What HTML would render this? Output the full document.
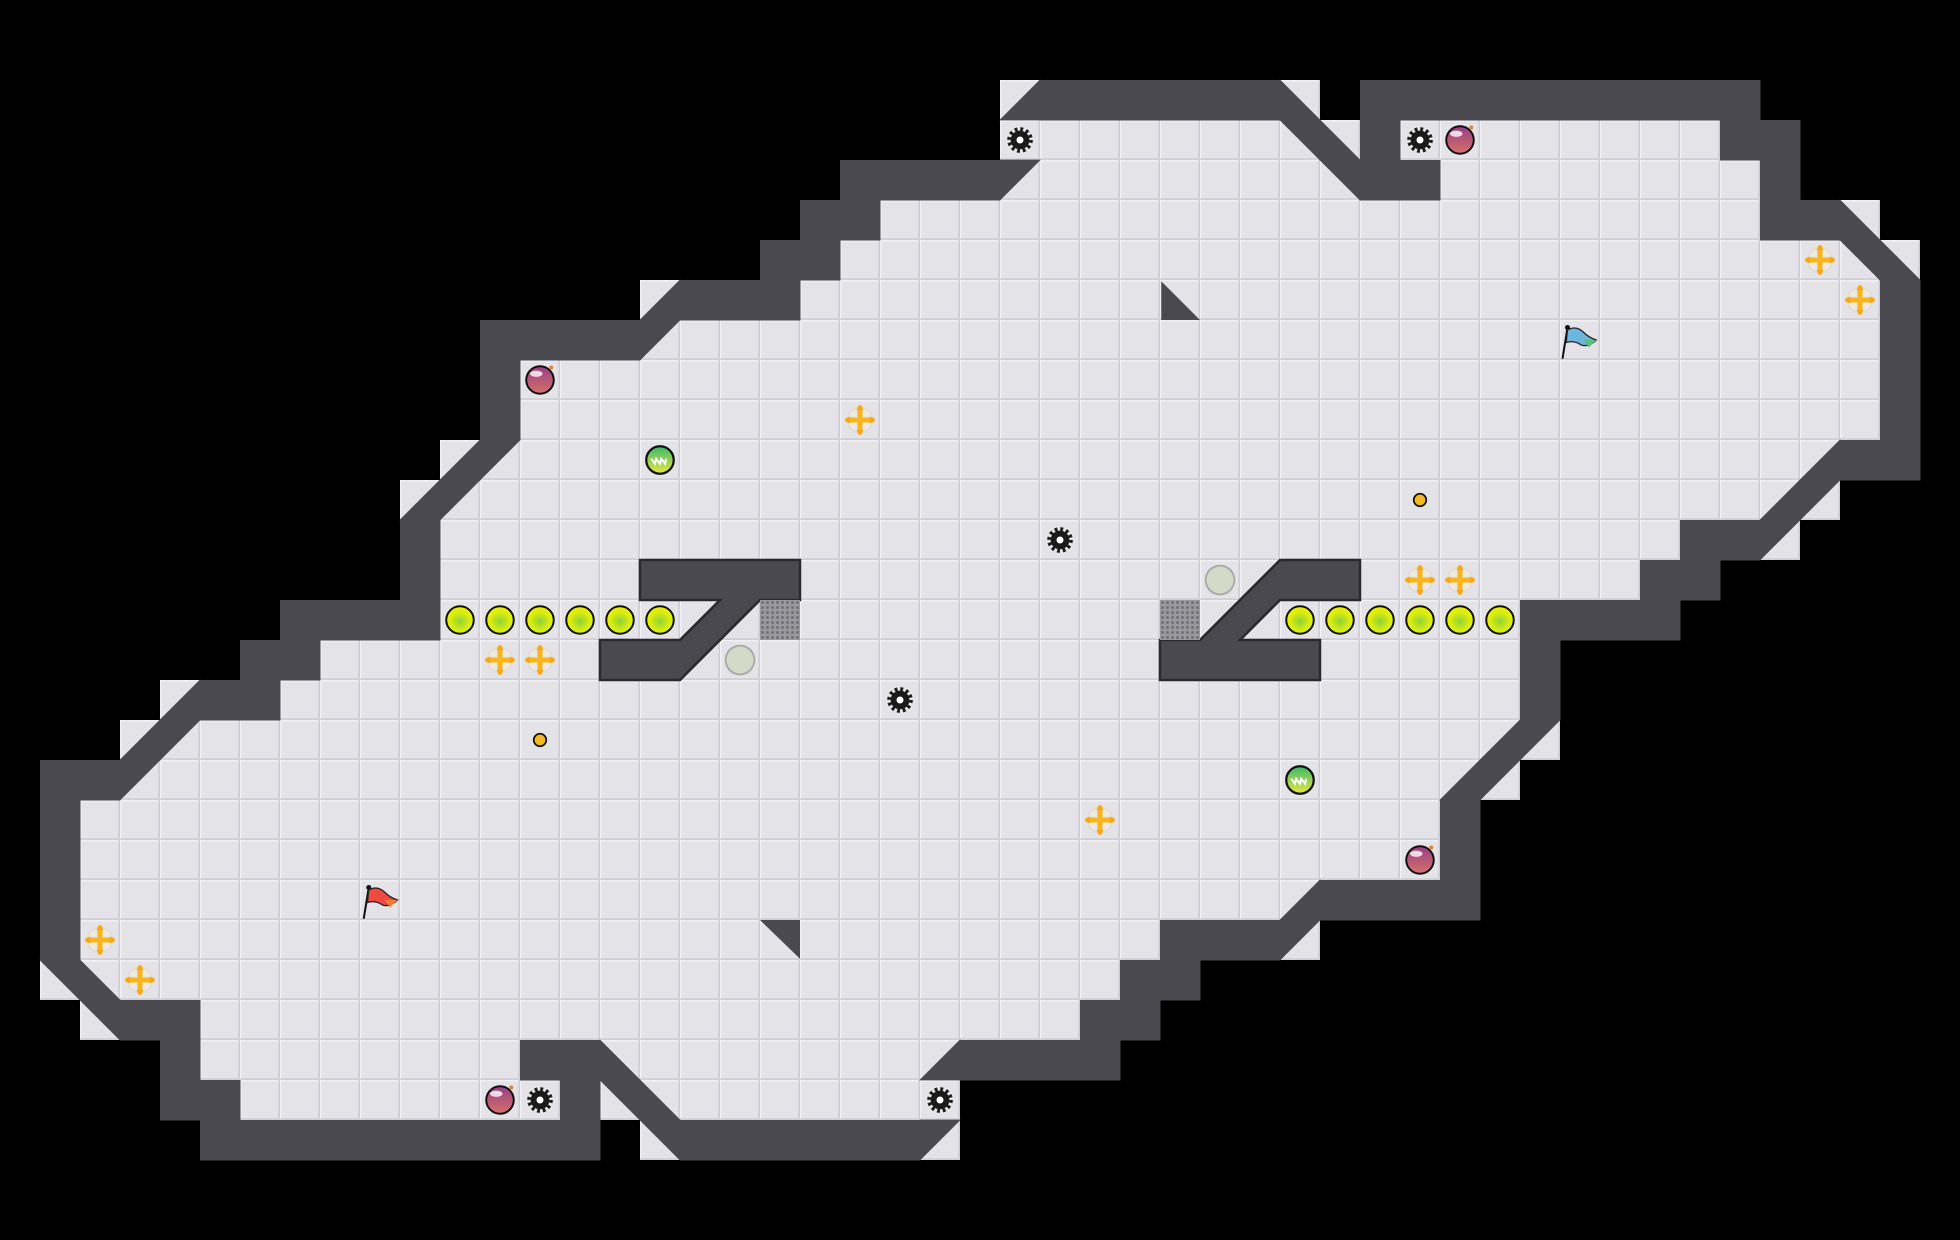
<!DOCTYPE html>
<html><head><meta charset="utf-8">
<style>
html,body{margin:0;padding:0;background:#000;width:1960px;height:1240px;overflow:hidden}
svg{display:block}
</style></head>
<body>
<svg id="s" xmlns="http://www.w3.org/2000/svg" width="1960" height="1240" viewBox="0 0 1568 992">
<defs>
<pattern id="fl" width="32" height="32" patternUnits="userSpaceOnUse">
<rect width="32" height="32" fill="#e3e3e8"/>
<rect x="0" y="0" width="32" height="1.2" fill="#f1f1f4"/>
<rect x="0" y="0" width="1.2" height="32" fill="#f1f1f4"/>
<rect x="0" y="30.6" width="32" height="1.4" fill="#cfcfd6"/>
<rect x="30.6" y="0" width="1.4" height="32" fill="#cfcfd6"/>
</pattern>
<radialGradient id="coin" cx="50%" cy="55%" r="55%">
<stop offset="0" stop-color="#8fd23a"/><stop offset="0.6" stop-color="#d6ec10"/><stop offset="1" stop-color="#f2f200"/>
</radialGradient>
<linearGradient id="bomb" x1="0" y1="0" x2="0" y2="1">
<stop offset="0" stop-color="#9a3f86"/><stop offset="1" stop-color="#d4706a"/>
</linearGradient>
<linearGradient id="orb" x1="0" y1="0" x2="0" y2="1">
<stop offset="0" stop-color="#3cb86a"/><stop offset="1" stop-color="#e6e840"/>
</linearGradient>
<pattern id="gr" width="4" height="4" patternUnits="userSpaceOnUse">
<rect width="4" height="4" fill="#9a9a9e"/><rect x="1" y="1" width="2" height="2" fill="#6a6a70"/>
</pattern>
</defs>
<rect width="1568" height="992" fill="#000"/>
<g id="g"></g>
</svg>
<script>
var rows={
2:"25A 26-31# 32B 34-43#",
3:"25. 26-31. 32D 33B 34# 35-42. 43-44#",
4:"21-24# 25C 26-32. 33D 34-35# 36-43. 44#",
5:"20-21# 22-43. 44-45# 46B",
6:"19-20# 21-45. 46D 47B",
7:"16A 17-19# 20-46. 47#",
8:"12-15# 16C 17-46. 47#",
9:"12# 13-46. 47#",
10:"12# 13-46. 47#",
11:"11A 12C 13-44. 45A 46-47#",
12:"10A 11C 12-43. 44A 45C",
13:"10# 11-41. 42-43# 44C",
14:"10# 11-40. 41-42#",
15:"7-10# 11-37. 38-41#",
16:"6-7# 8-37. 38#",
17:"4A 5-6# 7-37. 38#",
18:"3A 4C 5-36. 37A 38C",
19:"1-2# 3C 4-35. 36A 37C",
20:"1# 2-35. 36#",
21:"1# 2-35. 36#",
22:"1# 2-31. 32A 33-36#",
23:"1# 2-28. 29-31# 32C",
24:"1D 2B 3-27. 28-29#",
25:"2D 3-4# 5-26. 27-28#",
26:"4# 5-12. 13-14# 15B 16-22. 23A 24-27#",
27:"4-5# 6-13. 14# 15D 16B 17-23.",
28:"5-14# 16D 17-22# 23C"};
var W="#4a494f";
var fl="",dk="";
for(var r in rows){
 var y=r*32;
 rows[r].split(" ").forEach(function(t){
  var m=t.match(/^(\d+)(?:-(\d+))?(.)$/);
  var a=+m[1],b=m[2]?+m[2]:a,ch=m[3];
  for(var c=a;c<=b;c++){
   var x=c*32;
   fl+='<rect x="'+x+'" y="'+y+'" width="32" height="32" fill="url(#fl)"/>';
   var p=null;
   if(ch=="#")dk+='<rect x="'+x+'" y="'+y+'" width="32.4" height="32.4" fill="'+W+'"/>';
   if(ch=="A")p=[x+32,y,x+32,y+32,x,y+32];
   if(ch=="B")p=[x,y,x,y+32,x+32,y+32];
   if(ch=="C")p=[x,y,x+32,y,x,y+32];
   if(ch=="D")p=[x,y,x+32,y,x+32,y+32];
   if(p)dk+='<polygon points="'+p.join(" ")+'" fill="'+W+'" stroke="'+W+'" stroke-width="0.6"/>';
  }
 });
}
var h=fl+dk;
// interior blocks
h+='<polygon points="512,448 640,448 640,480 608,480 544,544 480,544 480,512 544,512 576,480 512,480" fill="'+W+'" stroke="#2a2a2e" stroke-width="2"/>';
h+='<polygon points="1024,448 1088,448 1088,480 1024,480 992,512 1056,512 1056,544 928,544 928,512 960,512" fill="'+W+'" stroke="#2a2a2e" stroke-width="2"/>';
h+='<polygon points="929,225 929,256 960,256" fill="'+W+'"/>';
h+='<polygon points="608,736 640,736 640,767" fill="'+W+'"/>';
// grates
h+='<rect x="608" y="480" width="32" height="32" fill="url(#gr)"/><rect x="928" y="480" width="32" height="32" fill="url(#gr)"/>';
// gray circles
[[592,528],[976,464]].forEach(function(q){h+='<circle cx="'+q[0]+'" cy="'+q[1]+'" r="11.5" fill="#d3dbc8" stroke="#a9aaa6" stroke-width="1.5"/>';});
// coins
[368,400,432,464,496,528,1040,1072,1104,1136,1168,1200].forEach(function(x){h+='<circle cx="'+x+'" cy="496" r="11" fill="url(#coin)" stroke="#111" stroke-width="1.6"/>';});
// gears
[[816,112],[1136,112],[848,432],[720,560],[432,880],[752,880]].forEach(function(q){
 h+='<circle cx="'+q[0]+'" cy="'+q[1]+'" r="8.5" fill="none" stroke="#1a1a1a" stroke-width="3.5" stroke-dasharray="2.2 2.25"/>';
 h+='<circle cx="'+q[0]+'" cy="'+q[1]+'" r="7.5" fill="#1a1a1a"/><circle cx="'+q[0]+'" cy="'+q[1]+'" r="2.8" fill="#fff"/>';
});
// bombs
[[1168,112],[432,304],[1136,688],[400,880]].forEach(function(q){
 var x=q[0],y=q[1];
 h+='<circle cx="'+x+'" cy="'+y+'" r="11" fill="url(#bomb)" stroke="#111" stroke-width="1.6"/>';
 h+='<ellipse cx="'+(x-3)+'" cy="'+(y-5)+'" rx="5" ry="2.5" fill="#fff" opacity="0.8"/>';
 h+='<circle cx="'+(x+9)+'" cy="'+(y-10)+'" r="1.6" fill="#f08020"/>';
});
// green orbs
[[528,368],[1040,624]].forEach(function(q){
 var x=q[0],y=q[1];
 h+='<circle cx="'+x+'" cy="'+y+'" r="11" fill="url(#orb)" stroke="#111" stroke-width="1.8"/>';
 h+='<path d="M'+(x-7)+' '+(y-1)+' l3 4 l1 -4 l3 4 l1 -4 l3 4 l1 -4" fill="none" stroke="#fff" stroke-width="1.6"/>';
});
// crosses
[[688,336],[1456,208],[1488,240],[400,528],[432,528],[1136,464],[1168,464],[880,656],[80,752],[112,784]].forEach(function(q){
 var x=q[0],y=q[1];
 h+='<circle cx="'+x+'" cy="'+y+'" r="10" fill="#ebe9e0" stroke="#dedbd0" stroke-width="1"/>';
 h+='<path d="M'+(x-10)+' '+y+' H'+(x+10)+' M'+x+' '+(y-10)+' V'+(y+10)+'" stroke="#f7b51e" stroke-width="4" stroke-linecap="round"/>';
 h+='<path d="M'+(x-12)+' '+y+' l4 -3 v6z M'+(x+12)+' '+y+' l-4 -3 v6z M'+x+' '+(y-12)+' l-3 4 h6z M'+x+' '+(y+12)+' l-3 -4 h6z" fill="#f7a51e"/>';
});
// gold dots
[[1136,400],[432,592]].forEach(function(q){h+='<circle cx="'+q[0]+'" cy="'+q[1]+'" r="5" fill="#f4b81c" stroke="#111" stroke-width="1.4"/>';});
// flags
h+='<path d="M291 735 L295 710" stroke="#111" stroke-width="1.6"/><circle cx="295" cy="710" r="2" fill="#111"/>';
h+='<path d="M295 712 Q302 708 308 714 Q312 718 318 720 Q312 726 306 724 Q300 720 294 722Z" fill="#ee4a40" stroke="#222" stroke-width="1"/><path d="M308 720 L318 720 L312 726Z" fill="#f08030"/>';
h+='<path d="M1250 287 L1254 262" stroke="#111" stroke-width="1.6"/><circle cx="1254" cy="262" r="2" fill="#111"/>';
h+='<path d="M1254 264 Q1261 260 1267 266 Q1271 270 1277 272 Q1271 278 1265 276 Q1259 272 1253 274Z" fill="#6cb6e0" stroke="#222" stroke-width="1"/><path d="M1267 272 L1277 272 L1271 278Z" fill="#5ac080"/>';
document.getElementById("g").innerHTML=h;
</script>
</body></html>
